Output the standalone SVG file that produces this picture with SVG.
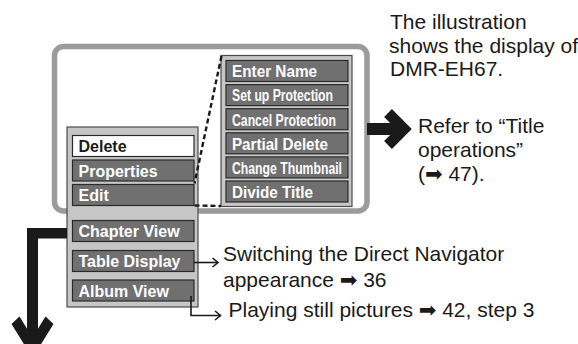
<svg xmlns="http://www.w3.org/2000/svg" width="578" height="344" viewBox="0 0 578 344">
<style>
.panel{fill:#c6c6c6;stroke:#4a4a4a;stroke-width:1.2}
.item{fill:#707070;stroke:#2a2a2a;stroke-width:1.2}
.sel{fill:#ffffff;stroke:#2a2a2a;stroke-width:1.2}
.it{font-family:"Liberation Sans","Arial",sans-serif;font-weight:bold;font-size:16px;fill:#ffffff}
.itd{font-family:"Liberation Sans","Arial",sans-serif;font-weight:bold;font-size:16px;fill:#1a1a1a}
.tx{font-family:"Liberation Sans","DejaVu Sans",sans-serif;font-size:21px;fill:#1a1a1a}
.thin{fill:none;stroke:#1a1a1a;stroke-width:1.6}
.big{fill:#1a1a1a}
</style>
<rect width="578" height="344" fill="#ffffff"/>
<g id="frame">
<rect x="54.5" y="46.5" width="312.5" height="164.5" rx="9" fill="#ffffff" stroke="#9b9b9b" stroke-width="5.5"/>
</g>
<g id="main-menu">
<rect class="panel" x="67" y="127" width="131" height="180"/>
<g id="delete"><rect class="sel" x="72.5" y="135.5" width="121.5" height="21"/><text class="itd" x="78.5" y="152.3">Delete</text></g>
<g id="properties"><rect class="item" x="72.5" y="160" width="121.5" height="21"/><text class="it" x="78.5" y="176.8">Properties</text></g>
<g id="edit"><rect class="item" x="72.5" y="184.5" width="121.5" height="21"/><text class="it" x="78.5" y="201.3">Edit</text></g>
<g id="chapter-view"><rect class="item" x="72.5" y="220.5" width="121.5" height="21"/><text class="it" x="78.5" y="237.3">Chapter View</text></g>
<g id="table-display"><rect class="item" x="72.5" y="250.5" width="121.5" height="21"/><text class="it" x="78.5" y="267.3">Table Display</text></g>
<g id="album-view"><rect class="item" x="72.5" y="280" width="121.5" height="21"/><text class="it" x="78.5" y="296.8">Album View</text></g>
</g>
<g id="edit-menu">
<rect class="panel" x="221" y="55.5" width="131" height="151"/>
<g id="enter-name"><rect class="item" x="226" y="60.5" width="122" height="21"/><text class="it" x="232" y="77.3" textLength="85" lengthAdjust="spacingAndGlyphs">Enter Name</text></g>
<g id="set-up-protection"><rect class="item" x="226" y="84.6" width="122" height="21"/><text class="it" x="232" y="101.4" textLength="101" lengthAdjust="spacingAndGlyphs">Set up Protection</text></g>
<g id="cancel-protection"><rect class="item" x="226" y="108.7" width="122" height="21"/><text class="it" x="232" y="125.5" textLength="104" lengthAdjust="spacingAndGlyphs">Cancel Protection</text></g>
<g id="partial-delete"><rect class="item" x="226" y="132.8" width="122" height="21"/><text class="it" x="232" y="149.6" textLength="96" lengthAdjust="spacingAndGlyphs">Partial Delete</text></g>
<g id="change-thumbnail"><rect class="item" x="226" y="156.9" width="122" height="21"/><text class="it" x="232" y="173.7" textLength="110" lengthAdjust="spacingAndGlyphs">Change Thumbnail</text></g>
<g id="divide-title"><rect class="item" x="226" y="181" width="122" height="21"/><text class="it" x="232" y="197.8" textLength="81" lengthAdjust="spacingAndGlyphs">Divide Title</text></g>
</g>
<g id="connectors">
<path d="M221.5,56 L194.5,183.5" fill="none" stroke="#1a1a1a" stroke-width="2.4" stroke-dasharray="5,3"/>
<path d="M194.5,205.5 L221,206" fill="none" stroke="#1a1a1a" stroke-width="2.4" stroke-dasharray="5,3"/>
<rect class="big" x="367" y="123" width="35" height="12"/>
<polyline points="388,113 404,129 388,145" fill="none" stroke="#1a1a1a" stroke-width="11" stroke-linejoin="miter" stroke-miterlimit="4"/>
<rect class="big" x="27" y="228" width="40" height="10.5"/>
<rect class="big" x="27" y="228" width="11" height="120"/>
<polygon class="big" points="11.5,324 19.5,316.5 32.5,337.5 45.5,316.5 53.5,324 32.5,358"/>
<path class="thin" d="M194,262.5 L217.5,262.5"/>
<polyline class="thin" points="212.5,258 218,262.5 212.5,267"/>
<path class="thin" d="M191,296 L191,315.5 L220.5,315.5"/>
<polyline class="thin" points="215,311 220.5,315.5 215,320"/>
</g>
<g id="texts">
<text class="tx" x="390" y="29.3">The illustration</text>
<text class="tx" x="389" y="52.7">shows the display of</text>
<text class="tx" x="390" y="76">DMR-EH67.</text>
<text class="tx" x="418" y="133.3">Refer to “Title</text>
<text class="tx" x="418" y="157">operations”</text>
<text class="tx" x="418" y="181">(➡ 47).</text>
<text class="tx" x="223" y="261">Switching the Direct Navigator</text>
<text class="tx" x="223" y="286.5">appearance ➡ 36</text>
<text class="tx" x="228.5" y="317">Playing still pictures ➡ 42, step 3</text>
</g>
</svg>
